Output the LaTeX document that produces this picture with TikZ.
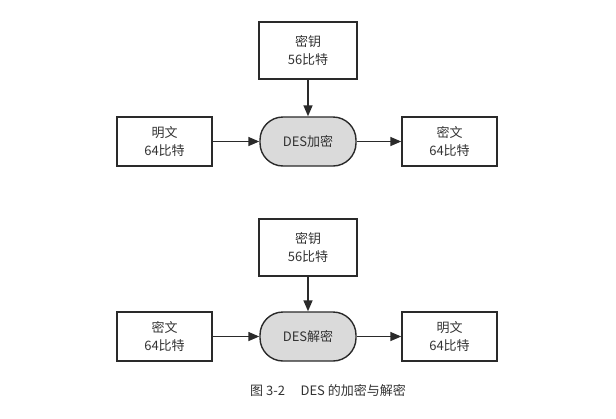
\documentclass[tikz,border=0pt]{standalone}
\usepackage{fontspec}
\setmainfont{Noto Sans CJK SC}
\usetikzlibrary{arrows.meta}
\definecolor{ink}{HTML}{2A2A2A}
\definecolor{txt}{HTML}{333333}
\definecolor{procfill}{HTML}{DADADA}
\tikzset{
  databox/.style={draw=ink, line width=1.4pt, fill=white, minimum width=95pt, minimum height=49pt,
    align=center, text=txt, font=\fontsize{13}{18}\selectfont, inner sep=0pt},
  keybox/.style={databox, minimum width=98pt, minimum height=57pt},
  procbox/.style={draw=ink, line width=1.4pt, fill=procfill, minimum width=96pt, minimum height=49pt,
    rounded corners=23pt, align=center, text=txt, font=\fontsize{13}{18}\selectfont, inner sep=0pt},
  flow/.style={draw=ink, line width=1.4pt, -{Triangle[length=11pt,width=9pt]}},
  caption/.style={text=txt, font=\fontsize{13}{15}\selectfont}
}
\begin{document}
\begin{tikzpicture}[x=1pt,y=-1pt]
  \useasboundingbox[fill=white] (0,0) rectangle (616,418);

  % encryption
  \node[keybox]  (key1)    at (308,50.5)  {密钥\\56比特};
  \node[databox] (plain1)  at (164.5,141.5) {明文\\64比特};
  \node[procbox] (enc)     at (308,141.5) {DES加密};
  \node[databox] (cipher1) at (449.5,141.5) {密文\\64比特};
  \draw[flow] (key1) -- (enc);
  \draw[flow] (plain1) -- (enc);
  \draw[flow] (enc) -- (cipher1);

  % decryption
  \node[keybox]  (key2)    at (308,247.5) {密钥\\56比特};
  \node[databox] (cipher2) at (164.5,336.5) {密文\\64比特};
  \node[procbox] (dec)     at (308,336.5) {DES解密};
  \node[databox] (plain2)  at (449.5,336.5) {明文\\64比特};
  \draw[flow] (key2) -- (dec);
  \draw[flow] (cipher2) -- (dec);
  \draw[flow] (dec) -- (plain2);

  \node[caption] (cap) at (328,391) {图 3-2\hspace{1.2em}DES 的加密与解密};
\end{tikzpicture}
\end{document}
